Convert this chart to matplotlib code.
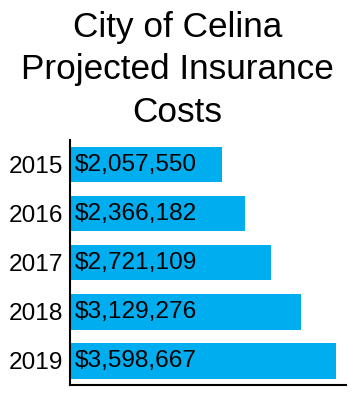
import matplotlib
matplotlib.use("Agg")
import matplotlib.pyplot as plt
from matplotlib.transforms import offset_copy

# data
years = ["2015", "2016", "2017", "2018", "2019"]
costs = [2057550, 2366182, 2721109, 3129276, 3598667]
labels = ["$2,057,550", "$2,366,182", "$2,721,109", "$3,129,276", "$3,598,667"]

plt.rcParams['font.family'] = ['Liberation Sans', 'DejaVu Sans']

fig = plt.figure(figsize=(3.55, 4.0), dpi=100)
ax = fig.add_axes([70/355, 15/400, 276/355, 245/400])

pos = list(range(len(years)))
ax.barh(pos, costs, height=0.72, color='#00AEEF')

# value labels inside the bars, near the left edge
trans = offset_copy(ax.transData, fig=fig, x=5, y=0, units='dots')
for p, lab in zip(pos, labels):
    ax.text(0, p, lab, transform=trans, ha='left', va='center',
            fontsize=17.6, color='black')

ax.set_yticks(pos)
ax.set_yticklabels(years, fontsize=17.6)
ax.tick_params(axis='y', length=0, pad=5)
ax.set_xticks([])
ax.set_xlim(0, 3.734e6)
ax.set_ylim(4.49, -0.5)

for s in ['top', 'right']:
    ax.spines[s].set_visible(False)
ax.spines['left'].set_linewidth(1.5)
ax.spines['bottom'].set_linewidth(1.5)

fig.text(0.5, 1 - 11/400, "City of Celina\nProjected Insurance\nCosts",
         ha='center', va='top', fontsize=25.3, linespacing=1.36)

fig.savefig("out.png", dpi=100)
